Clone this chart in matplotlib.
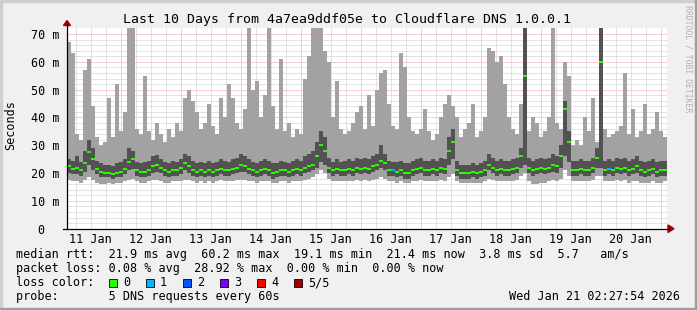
import numpy as np
import pandas as pd
import matplotlib
matplotlib.use('Agg')
from matplotlib import pyplot as plt
import matplotlib.dates as mdates
from matplotlib.patches import Rectangle, Polygon
from matplotlib.lines import Line2D

# smokeping rtt samples, ms, one value every 96 min from Jan 11 02:27:54
ping_min = [17.5, 17, 17, 16.5, 17.5, 18.5, 17.5, 16.5, 16, 16,
            16.5, 16, 16.5, 16.5, 17, 17.5, 18, 17, 16.5, 16.5,
            17, 17.5, 17.5, 17, 16.5, 16.5, 17, 17, 17, 17.5,
            17.5, 17, 16.5, 17, 16.5, 17, 16.5, 17, 17.5, 17,
            17, 17, 17.5, 17.5, 17.5, 17, 17, 16.5, 17, 17,
            17, 16.5, 16.5, 17, 17, 16.5, 17, 17, 17, 17.5,
            18, 18.5, 19.5, 21, 20, 18, 17, 17, 17, 17,
            17, 17, 17.5, 17, 17.5, 17, 17.5, 18, 18.5, 18,
            17, 17, 16.5, 17, 16.5, 16.5, 17, 17, 17.5, 17,
            17, 17, 17, 17.5, 17, 18.5, 19.5, 17, 16.5, 16.5,
            16.5, 16.5, 16.5, 16.5, 17, 18, 17.5, 17, 17, 17,
            17, 17, 17.5, 19, 20, 17, 16, 16, 16.5, 16.5,
            17, 17.5, 17, 18, 21, 19, 17, 17, 17, 17,
            17, 17.5, 19, 19, 17, 17, 17, 17.5, 17, 17.5,
            16.5, 17, 17, 16.5, 16.5, 16.5, 17, 16.5, 16.5, 17]
ping_lo = [20, 19.5, 19.5, 19, 20.5, 23, 21, 19.5, 18.5, 18.5,
           18.5, 18, 18.5, 18.5, 19.5, 21, 21.5, 19, 18.5, 18.5,
           19, 20, 20.5, 20, 19, 18.5, 19, 19, 19.5, 21,
           20, 19, 18.5, 19, 18.5, 19, 18.5, 19, 19.5, 19,
           19, 19.5, 20, 20.5, 20.5, 19.5, 19, 18.5, 19, 19.5,
           19, 18, 18.5, 19, 19, 18.5, 19, 19.5, 19, 20,
           20.5, 21, 22, 24, 23, 20, 19, 19.5, 19, 19,
           19.5, 19, 20, 19.5, 20, 19.5, 20.5, 21, 22, 21,
           19, 19, 18.5, 19, 18, 18, 19, 19.5, 20, 19,
           19, 19.5, 19, 20, 19.5, 23, 25, 19, 18, 18,
           18, 18.5, 18, 18.5, 19, 21, 20, 19, 19.5, 19,
           19, 19.5, 20, 22, 23, 20, 19, 19.5, 20, 19.5,
           20, 20.5, 20, 22, 26, 24, 19, 19, 19.5, 19,
           19, 20, 22, 22, 19, 19.5, 19, 20, 19.5, 20,
           19, 19.5, 20, 19, 18.5, 19, 19.5, 18.5, 19, 19]
median = [22.5, 21.5, 22, 21, 23.5, 27.5, 25, 21.5, 20.5, 20,
          20, 19.5, 20, 20.5, 21.5, 24, 25, 21, 20.5, 20.5,
          21, 22.5, 23, 22, 21, 20.5, 21, 21, 22, 23.5,
          22.5, 21, 20.5, 21, 20.5, 21, 20.5, 21, 21.5, 21,
          21, 21.5, 22, 23, 22.5, 21.5, 21, 20.5, 21, 21.5,
          21, 20, 20.5, 21, 21, 20.5, 21, 21.5, 21, 22,
          22.5, 23, 26, 30, 28, 22, 21, 21.5, 21, 21,
          21.5, 21, 22, 21.5, 22, 21.5, 22.5, 23, 24.5, 23.5,
          21, 21, 20.5, 21, 20, 20, 21, 21.5, 22, 21,
          21, 21.5, 21, 22, 21.5, 28, 31, 21, 20, 20,
          20, 20.5, 20, 20.5, 21, 23, 22, 21, 21.5, 21,
          21, 21.5, 22, 26, 55, 22, 21, 21.5, 22, 21.5,
          22, 23, 22.5, 26, 43, 31, 21, 21, 21.5, 21,
          21, 22, 25.5, 60, 21, 21.5, 21, 22, 21.5, 22,
          21, 21.5, 22.5, 21, 20.5, 21, 21.5, 20.5, 21, 21]
ping_hi = [25, 24.5, 26, 24, 28, 32, 29, 24.5, 23.5, 23,
           23, 22.5, 23.5, 24, 25, 29, 28, 24, 23.5, 24,
           24.5, 26, 26.5, 25, 24, 23.5, 24.5, 24, 25, 27,
           26, 24.5, 23.5, 24, 23.5, 24.5, 23.5, 24, 25, 24.5,
           24, 25, 25.5, 27, 26, 25, 24, 23.5, 24.5, 25,
           24.5, 23.5, 23.5, 24.5, 24, 23.5, 24.5, 25, 24.5, 26,
           27, 28, 31, 35, 33, 25.5, 24, 25, 24, 24.5,
           25, 24.5, 25.5, 25, 25.5, 25, 26, 27, 30, 27,
           24.5, 24, 24, 24.5, 23.5, 23.5, 24.5, 25, 25.5, 24.5,
           24.5, 25, 24.5, 25.5, 25, 33, 36, 24.5, 23, 23,
           23, 23.5, 23, 23.5, 24.5, 27, 25.5, 24.5, 25, 24.5,
           24.5, 25, 25.5, 29, 72, 25.5, 24.5, 25, 25.5, 25,
           25.5, 27, 26, 30, 46, 35, 24.5, 24.5, 25, 24.5,
           24.5, 25.5, 29, 72, 24.5, 25, 24.5, 25.5, 25, 25.5,
           24.5, 25, 26, 24.5, 24, 24.5, 25, 24, 24.5, 24.5]
ping_max = [67, 63, 34, 32, 57, 61, 44, 33, 30, 31,
            47, 33, 52, 35, 42, 72, 72, 36, 34, 55,
            35, 32, 38, 34, 31, 36, 33, 38, 35, 47,
            50, 46, 42, 36, 38, 45, 37, 34, 47, 40,
            52, 47, 38, 36, 43, 72, 50, 53, 40, 48,
            72, 44, 36, 61, 35, 38, 33, 36, 34, 54,
            62, 72, 72, 72, 64, 60, 40, 53, 36, 34,
            35, 38, 42, 44, 36, 48, 37, 50, 56, 57,
            45, 37, 36, 63, 58, 40, 35, 34, 36, 43,
            35, 32, 34, 40, 45, 48, 44, 40, 33, 36,
            38, 45, 33, 35, 40, 65, 64, 60, 62, 52,
            40, 36, 34, 45, 72, 35, 40, 38, 33, 35,
            40, 72, 38, 36, 60, 55, 30, 32, 30, 40,
            35, 47, 31, 72, 36, 33, 34, 35, 37, 56,
            34, 43, 33, 35, 45, 34, 36, 42, 35, 33]
# lost pings per sample (out of 5)
loss = [0] * 150
loss[81] = 1
loss[135] = 1

loss_labels = ['0', '1', '2', '3', '4', '5/5']
loss_colors = ['#26ff00', '#00b8ff', '#0059ff', '#7e00ff', '#ff0000', '#a10000']

W, H = 697, 310


def fp(x, y):
    # pixel (from top-left) to figure fraction
    return x / W, 1 - y / H


mono = 'DejaVu Sans Mono'
plt.rcParams['font.family'] = mono

fig = plt.figure(figsize=(W / 100, H / 100), dpi=100, facecolor='#f0f0f0')
x0, y0, x1, y1 = 67, 28, 667, 228.7
ax = fig.add_axes([x0 / W, (H - y1) / H, (x1 - x0) / W, (y1 - y0) / H])
ax.set_facecolor('white')

t = pd.date_range('2026-01-11 02:27:54', periods=len(median), freq='96min')
tn = mdates.date2num(t)
w = 96 / 1440.0

lo1 = np.array(ping_min)
hi1 = np.array(ping_max)
lo2 = np.array(ping_lo)
hi2 = np.array(ping_hi)

# smoke: outer band (min..max) light, inner band darker, median on top
ax.bar(tn + w / 2, hi1 - lo1, bottom=lo1, width=w * 0.8, align='center',
       color='#a2a2a2', linewidth=0, antialiased=False, zorder=2)
ax.bar(tn, hi2 - lo2, bottom=lo2, width=w, align='edge', color='#525252',
       linewidth=0, antialiased=False, zorder=3)
ax.hlines(median, tn, tn + w, colors=[loss_colors[l] for l in loss],
          linewidth=1.4, zorder=4)

ax.set_xlim(tn[0], tn[0] + 10)
ax.set_ylim(0, (y1 - y0) / 2.781)

# grid
for v in range(2, 72, 2):
    if v % 10:
        ax.axhline(v, color='#c8c8c8', lw=0.72, dashes=(1, 1), zorder=0.5)
for v in range(10, 80, 10):
    ax.axhline(v, color='#f0a0a0', lw=0.72, dashes=(1, 1), zorder=0.6)
for d in pd.date_range('2026-01-11', '2026-01-21 00:00', freq='6h'):
    dn = mdates.date2num(d)
    if d.hour == 0:
        ax.axvline(dn, color='#f0a0a0', lw=0.72, dashes=(1, 1), zorder=0.6)
    else:
        ax.axvline(dn, color='#c8c8c8', lw=0.72, dashes=(1, 1), zorder=0.5)

for s in ax.spines.values():
    s.set_visible(False)

ax.set_yticks(range(0, 80, 10))
ax.set_yticklabels(['0  '] + ['%d m' % v for v in range(10, 80, 10)])
ax.tick_params(axis='y', length=0, pad=5.4, labelsize=8.5)
noons = pd.date_range('2026-01-11 12:00', periods=10, freq='D')
ax.set_xticks(mdates.date2num(noons))
ax.set_xticklabels([d.strftime('%d Jan') for d in noons])
ax.tick_params(axis='x', length=0, pad=3.2, labelsize=8.5)

# axes with arrows
fig.add_artist(Line2D(*zip(fp(67, 229), fp(67, 24)), color='black', lw=0.9))
fig.add_artist(Line2D(*zip(fp(63, 228.7), fp(669, 228.7)), color='black', lw=0.9))
arrow = '#a00000'
fig.add_artist(Polygon([fp(63.5, 25.5), fp(70.5, 25.5), fp(67, 20.5)],
                       closed=True, color=arrow, transform=fig.transFigure))
fig.add_artist(Polygon([fp(668, 225), fp(668, 232.5), fp(674, 228.7)],
                       closed=True, color=arrow, transform=fig.transFigure))

# frame shading
fig.add_artist(Rectangle((0, 1 - 2 / H), 1, 2 / H, color='#cfcfcf', transform=fig.transFigure))
fig.add_artist(Rectangle((0, 0), 2 / W, 1, color='#cfcfcf', transform=fig.transFigure))
fig.add_artist(Rectangle((0, 0), 1, 2 / H, color='#9e9e9e', transform=fig.transFigure))
fig.add_artist(Rectangle((1 - 2 / W, 0), 2 / W, 1, color='#9e9e9e', transform=fig.transFigure))

fig.text(*fp(347, 19), 'Last 10 Days from 4a7ea9ddf05e to Cloudflare DNS 1.0.0.1',
         ha='center', va='center', fontsize=9.5)
fig.text(*fp(11, 125), 'Seconds', rotation=90, ha='center', va='center', fontsize=8.5)
fig.text(*fp(688, 59), 'RRDTOOL / TOBI OETIKER', rotation=270, ha='center',
         va='center', fontsize=5.9, color='#b0b0b0')

lx = 16
fig.text(*fp(lx, 254.7),
         'median rtt:  21.9 ms avg  60.2 ms max  19.1 ms min  21.4 ms now  3.8 ms sd  5.7   am/s',
         ha='left', va='center', fontsize=8.5)
fig.text(*fp(lx, 268.3),
         'packet loss: 0.08 % avg  28.92 % max  0.00 % min  0.00 % now',
         ha='left', va='center', fontsize=8.5)
fig.text(*fp(lx, 282.7), 'loss color:', ha='left', va='center', fontsize=8.5)
for k, (lab, col) in enumerate(zip(loss_labels, loss_colors)):
    bx = 108.5 + 37 * k
    fig.add_artist(Rectangle(fp(bx, 286.5), 8 / W, 8 / H, facecolor=col,
                             edgecolor='black', lw=0.6, transform=fig.transFigure))
    fig.text(*fp(bx + 14.5, 282.7), lab, ha='left', va='center', fontsize=8.5)
fig.text(*fp(lx, 296.3), 'probe:       5 DNS requests every 60s',
         ha='left', va='center', fontsize=8.5)
fig.text(*fp(680, 296.3), 'Wed Jan 21 02:27:54 2026', ha='right', va='center', fontsize=8.5)

fig.savefig('out.png', dpi=100, facecolor=fig.get_facecolor())
